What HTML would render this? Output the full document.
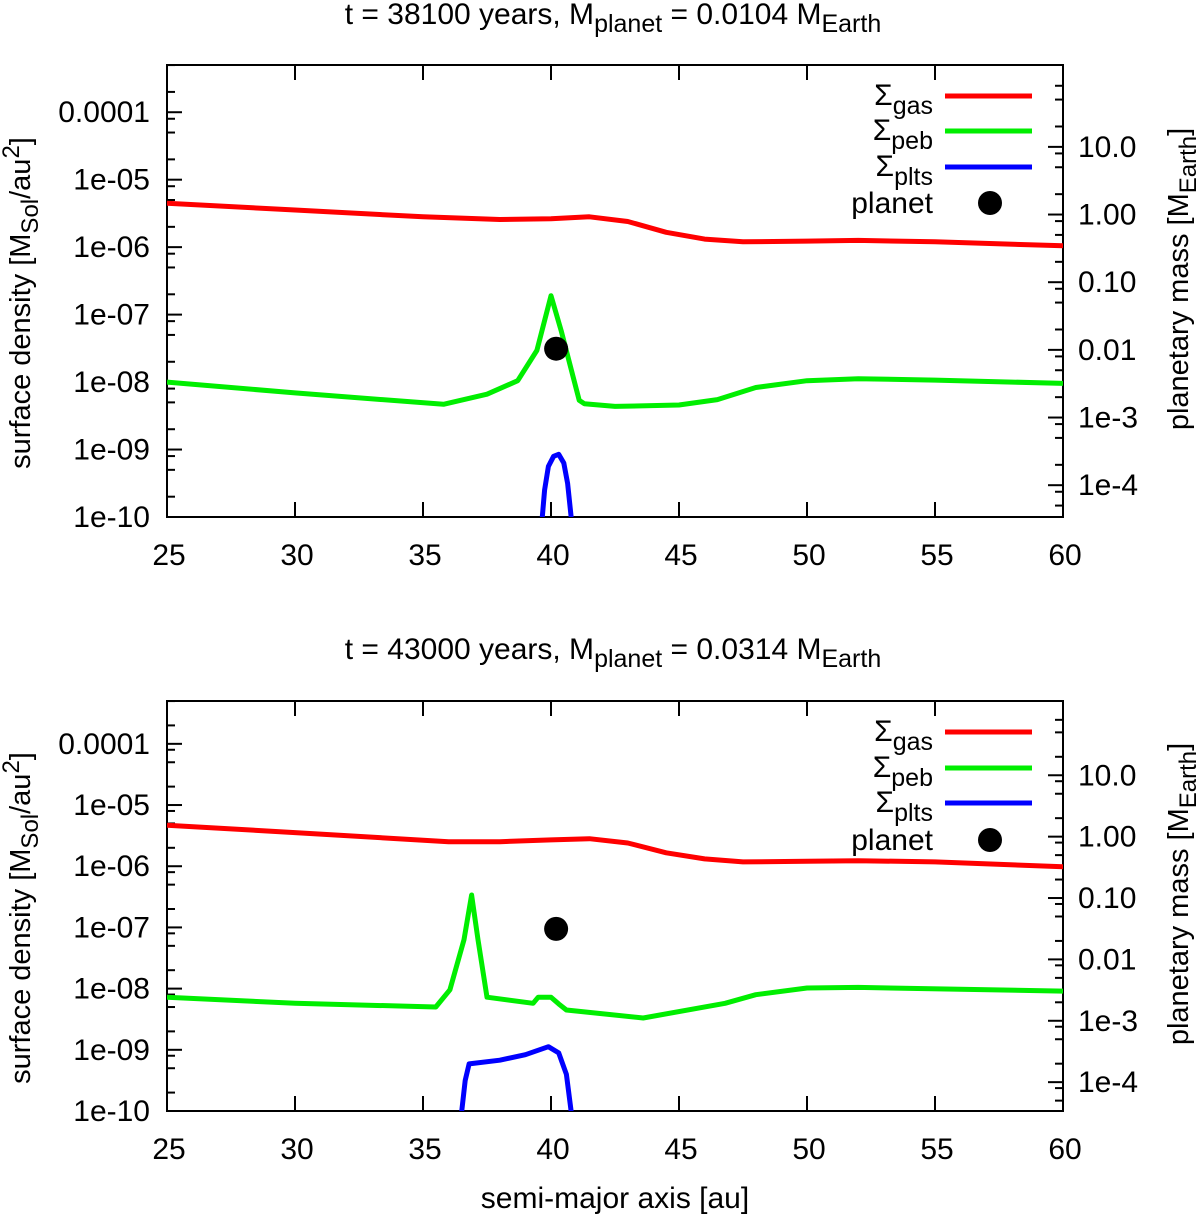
<!DOCTYPE html>
<html><head><meta charset="utf-8"><style>
html,body{margin:0;padding:0;background:#fff;}
svg{display:block;font-family:"Liberation Sans",sans-serif;}
</style></head><body>
<svg id="chart" width="1200" height="1218" viewBox="0 0 1200 1218" xmlns="http://www.w3.org/2000/svg"></svg>
<script>
// ---- data ----
const xTicks = [25,30,35,40,45,50,55,60];
const yTickLabels = ["1e-10","1e-09","1e-08","1e-07","1e-06","1e-05","0.0001"];
const yTickLogs = [-10,-9,-8,-7,-6,-5,-4];
const y2TickLabels = ["1e-4","1e-3","0.01","0.10","1.00","10.0"];
const y2TickLogs = [-4,-3,-2,-1,0,1];

const gas1X = [25,30,35,38,40,41.5,43,44.5,46,47.5,50,52,55,60];
const gas1Y = [-5.35,-5.45,-5.55,-5.59,-5.58,-5.55,-5.62,-5.78,-5.88,-5.92,-5.91,-5.90,-5.92,-5.98];
const peb1X = [25,30,35.8,37.5,38.7,39.45,40.0,40.4,41.1,41.3,42.5,45,46.5,48,50,52,55,60];
const peb1Y = [-8.0,-8.16,-8.33,-8.18,-7.98,-7.53,-6.72,-7.24,-8.27,-8.32,-8.36,-8.34,-8.26,-8.08,-7.98,-7.95,-7.97,-8.02];
const plt1X = [39.65,39.75,39.9,40.1,40.3,40.5,40.65,40.8];
const plt1Y = [-10.05,-9.6,-9.25,-9.1,-9.07,-9.2,-9.5,-10.05];
const planet1 = [40.2, 0.0104];

const gas2X = [25,30,36,38,40,41.5,43,44.5,46,47.5,50,52,55,60];
const gas2Y = [-5.33,-5.45,-5.60,-5.60,-5.57,-5.55,-5.62,-5.78,-5.88,-5.93,-5.92,-5.91,-5.93,-6.01];
const peb2X = [25,30,35.5,36.05,36.6,36.9,37.15,37.5,39.3,39.5,40.0,40.3,40.6,43.6,46.8,48,50,52,60];
const peb2Y = [-8.14,-8.24,-8.30,-8.02,-7.2,-6.47,-7.2,-8.14,-8.24,-8.14,-8.14,-8.25,-8.35,-8.48,-8.24,-8.1,-7.99,-7.98,-8.04];
const plt2X = [36.5,36.65,36.8,38,39,39.9,40.3,40.6,40.8];
const plt2Y = [-10.05,-9.5,-9.23,-9.17,-9.08,-8.95,-9.05,-9.4,-10.05];
const planet2 = [40.2, 0.0314];

const NS = "http://www.w3.org/2000/svg";
const svg = document.getElementById("chart");
function el(tag, attrs, parent){const e=document.createElementNS(NS,tag);for(const k in attrs)e.setAttribute(k,attrs[k]);(parent||svg).appendChild(e);return e;}

function panel(p){
  const L=167,R=1063,T=p.top,B=p.bottom;
  const yMin=-10, yMax=-3.3, y2Min=-4.47, y2Max=2.21;
  const sx=v=>L+(v-25)/(60-25)*(R-L);
  const sy=v=>B-(v-yMin)/(yMax-yMin)*(B-T);
  const sy2=v=>B-(v-y2Min)/(y2Max-y2Min)*(B-T);
  const g=el("g",{});
  
  
  const t=el("text",{x:613,y:p.titleY,"font-size":30,"text-anchor":"middle",fill:"#000"},g);
  
  
  t.innerHTML='t = '+p.years+' years, M<tspan dy="8" font-size="25">planet</tspan><tspan dy="-8"> = '+p.mass+' M</tspan><tspan dy="8" font-size="25">Earth</tspan>';
  const fr=el("rect",{x:L,y:T,width:R-L,height:B-T,fill:"none",stroke:"#000","stroke-width":2},g);
  
  
  xTicks.forEach(v=>{
    const x=sx(v);
    el("line",{x1:x,y1:B,x2:x,y2:B-15,stroke:"#000","stroke-width":2},g);
    el("line",{x1:x,y1:T,x2:x,y2:T+15,stroke:"#000","stroke-width":2},g);
    const lb=el("text",{x:x+2,y:B+48,"font-size":30,"text-anchor":"middle"},g);
    
    
    lb.textContent=v;
  });
  yTickLogs.forEach((v,i)=>{
    const y=sy(v);
    el("line",{x1:L,y1:y,x2:L+15,y2:y,stroke:"#000","stroke-width":2},g);
    const lb=el("text",{x:150,y:y+10,"font-size":30,"text-anchor":"end"},g);
    
    
    lb.textContent=yTickLabels[i];
  });
  for(let d=-10; d<-3.3; d++){[2,5,8].forEach(m=>{const lv=d+Math.log10(m); if(lv<yMax){const y=sy(lv);el("line",{x1:L,y1:y,x2:L+8,y2:y,stroke:"#000","stroke-width":2},g);}});}
  y2TickLogs.forEach((v,i)=>{
    const y=sy2(v);
    el("line",{x1:R,y1:y,x2:R-15,y2:y,stroke:"#000","stroke-width":2},g);
    const lb=el("text",{x:1078,y:y+10,"font-size":30,"text-anchor":"start"},g);
    
    
    lb.textContent=y2TickLabels[i];
  });
  for(let d=-5; d<3; d++){[2,5,8].forEach(m=>{const lv=d+Math.log10(m); if(lv>y2Min&&lv<y2Max){const y=sy2(lv);el("line",{x1:R,y1:y,x2:R-8,y2:y,stroke:"#000","stroke-width":2},g);}});}
  const cy=(T+B)/2;
  const yt=el("text",{x:0,y:0,"font-size":29,"text-anchor":"middle",transform:`translate(30,${cy+12}) rotate(-90)`},g);
  
  
  yt.innerHTML='surface density [M<tspan dy="8" font-size="24">Sol</tspan><tspan dy="-8">/au</tspan><tspan dy="-11" font-size="24">2</tspan><tspan dy="11">]</tspan>';
  const y2t=el("text",{x:0,y:0,"font-size":29,"text-anchor":"middle",transform:`translate(1188,${cy-12}) rotate(-90)`},g);
  
  
  y2t.innerHTML='planetary mass [M<tspan dy="8" font-size="24">Earth</tspan><tspan dy="-8">]</tspan>';
  const clip=el("clipPath",{id:"clip"+p.id},g);
  el("rect",{x:L,y:T,width:R-L,height:B-T},clip);
  function series(xs,ys,color,name){
    const d=xs.map((x,i)=>(i?"L":"M")+sx(x).toFixed(1)+","+sy(ys[i]).toFixed(1)).join(" ");
    const pth=el("path",{d:d,fill:"none",stroke:color,"stroke-width":5,"stroke-linejoin":"round","clip-path":`url(#clip${p.id})`},g);
    
    
  }
  series(p.gx,p.gy,"#ff0000","sigma-gas-line");
  series(p.px,p.py,"#00ee00","sigma-peb-line");
  series(p.bx,p.by,"#0000ff","sigma-plts-line");
  const dot=el("circle",{cx:sx(p.planet[0]),cy:sy2(Math.log10(p.planet[1])),r:12,fill:"#000"},g);
  
  
  const ly=p.legY;
  const items=[["gas","#ff0000"],["peb","#00ee00"],["plts","#0000ff"]];
  items.forEach((it,i)=>{
    const y=ly[i];
    const tx=el("text",{x:933,y:y+9,"font-size":30,"text-anchor":"end"},g);
    
    
    tx.innerHTML='Σ<tspan dy="9" font-size="25">'+it[0]+'</tspan>';
    const ln=el("line",{x1:945,y1:y,x2:1032,y2:y,stroke:it[1],"stroke-width":5},g);
    
    
  });
  const pt=el("text",{x:933,y:ly[3]+10,"font-size":30,"text-anchor":"end"},g);
  
  
  pt.textContent="planet";
  const pd=el("circle",{cx:990,cy:ly[3],r:12,fill:"#000"},g);
  
  
}
panel({id:1,name:"panel-top",top:65,bottom:517,titleY:24,years:"38100",mass:"0.0104",gx:gas1X,gy:gas1Y,px:peb1X,py:peb1Y,bx:plt1X,by:plt1Y,planet:planet1,legY:[96,131,167,203]});
panel({id:2,name:"panel-bottom",top:701,bottom:1111,titleY:659,years:"43000",mass:"0.0314",gx:gas2X,gy:gas2Y,px:peb2X,py:peb2Y,bx:plt2X,by:plt2Y,planet:planet2,legY:[732,768,803,840]});
const xt=el("text",{x:615,y:1208,"font-size":30,"text-anchor":"middle"});


xt.textContent="semi-major axis [au]";
</script>
</body></html>
